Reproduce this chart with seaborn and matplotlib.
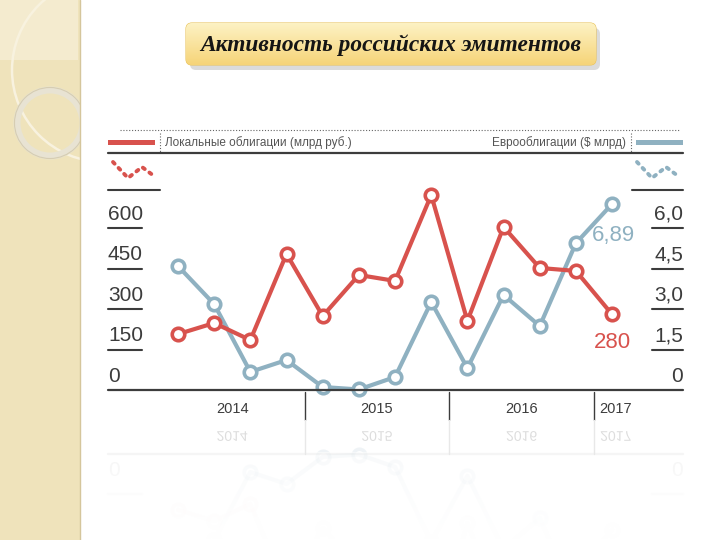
import numpy as np
import matplotlib
matplotlib.use("Agg")
import matplotlib.pyplot as plt
import seaborn as sns
from matplotlib.patches import FancyBboxPatch, Rectangle, Circle, PathPatch
from matplotlib.textpath import TextPath
from matplotlib.font_manager import FontProperties
from matplotlib.transforms import Affine2D

# данные по кварталам: I кв. 2014 – I кв. 2017
quarters = ["I-2014", "II-2014", "III-2014", "IV-2014",
            "I-2015", "II-2015", "III-2015", "IV-2015",
            "I-2016", "II-2016", "III-2016", "IV-2016", "I-2017"]
local_bonds = [207, 248, 185, 504, 274, 426, 404, 722, 256, 604, 452, 441, 280]   # млрд руб.
eurobonds = [4.59, 3.18, 0.67, 1.11, 0.11, 0.02, 0.48, 3.26, 0.81, 3.52, 2.37, 5.44, 6.89]  # $ млрд

years = ["2014", "2015", "2016", "2017"]
year_pos = [1.5, 5.5, 9.5, 12.1]
year_breaks = [3.5, 7.5, 11.5]

left_ticks = [0, 150, 300, 450, 600]
left_labels = ["0", "150", "300", "450", "600"]
right_ticks = [0, 1.5, 3.0, 4.5, 6.0]
right_labels = ["0", "1,5", "3,0", "4,5", "6,0"]

TITLE = "Активность российских эмитентов"
LOCAL_NAME = "Локальные облигации (млрд руб.)"
EURO_NAME = "Еврооблигации ($ млрд)"

RED = "#d8524d"
BLUE = "#8fb1c1"
DARK = "#3c3c3c"
GREY = "#555555"
NARROW = ["Liberation Sans", "DejaVu Sans"]

W, H = 720, 540
X0, X1 = -1.935, 13.96      # пределы оси x (индекс квартала)
YTOP = 877.8                # верх левой оси
SCALE2 = 100.0              # 600 млрд руб. <-> 6,0 $ млрд


def box(l, t, r, b):
    return [l / W, 1 - b / H, (r - l) / W, (b - t) / H]


def xpx(v):
    return 108 + (v - X0) / (X1 - X0) * 575


sns.set_theme(style="white")
plt.rcParams["font.family"] = NARROW

fig = plt.figure(figsize=(7.2, 5.4), dpi=100)
fig.patch.set_facecolor("white")

# ---------- фон слайда ----------
bg = fig.add_axes([0, 0, 1, 1], zorder=0)
bg.set_xlim(0, W)
bg.set_ylim(H, 0)
bg.axis("off")

strip = Rectangle((0, 0), 80, H, fc="#efe3bb", ec="none")
bg.add_patch(strip)
corner = Rectangle((0, 0), 78, 60, fc="#f4ebcf", ec="none")
bg.add_patch(corner)
for c in [Circle((104, 70), 92, fill=False, ec="#f8f2df", lw=1.8),
          Circle((50, 123), 33, fill=False, ec="#e8e3d3", lw=5),
          Circle((50, 123), 35.5, fill=False, ec="#d6cdb2", lw=0.8)]:
    bg.add_patch(c)
    c.set_clip_path(strip)
bg.plot([80, 80], [0, H], color="#d5c69c", lw=1)

# ---------- заголовок ----------
shadow = FancyBboxPatch((190, 28), 410, 42, boxstyle="round,pad=0,rounding_size=6",
                        fc="#9a9a9a", ec="none", alpha=0.35)
bg.add_patch(shadow)
tbox = FancyBboxPatch((186, 23), 410, 42, boxstyle="round,pad=0,rounding_size=6",
                      fc="#fbe7a0", ec="#e9c35e", lw=0.8)
bg.add_patch(tbox)
grad = np.linspace(0, 1, 64)[:, None, None]
top_c = np.array([253, 242, 196]) / 255
bot_c = np.array([246, 212, 120]) / 255
img = top_c * (1 - grad) + bot_c * grad
gi = bg.imshow(img, extent=(186, 596, 65, 23), origin="upper", aspect="auto", zorder=2)
gi.set_clip_path(tbox)
bg.text(200, 45, TITLE, ha="left", va="center", fontsize=16.8, color="#151515",
        family=["Liberation Serif", "DejaVu Serif"], style="italic", weight="bold", zorder=3)

# ---------- шапка графика ----------
bg.plot([120, 680], [130, 130], color="#666666", lw=0.8, ls=(0, (1, 1.6)))
bg.add_patch(Rectangle((108, 140), 47, 5, fc=RED, ec="none"))
bg.add_patch(Rectangle((636, 140), 47, 5, fc=BLUE, ec="none"))
bg.plot([160, 160], [133, 152], color="#666666", lw=0.8, ls=(0, (1, 1.6)))
bg.plot([631, 631], [133, 152], color="#666666", lw=0.8, ls=(0, (1, 1.6)))
bg.text(165, 143, LOCAL_NAME, ha="left", va="center", fontsize=8.5, color=GREY)
bg.text(626, 143, EURO_NAME, ha="right", va="center", fontsize=8.5, color=GREY)
bg.plot([108, 683], [153, 153], color=DARK, lw=1.6)

# значки-легенды (пунктирная ломаная)
icon_x = np.array([0, 15, 29, 41])
icon_y = np.array([162, 178, 167, 176])
bg.plot(113 + icon_x, icon_y, color=RED, lw=2.8, ls=(0, (0.6, 1.5)), dash_capstyle="round")
bg.plot(637 + icon_x, icon_y, color=BLUE, lw=2.8, ls=(0, (0.6, 1.5)), dash_capstyle="round")
bg.plot([108, 160], [190, 190], color=DARK, lw=1.5)
bg.plot([632, 683], [190, 190], color=DARK, lw=1.5)

# ---------- основной график ----------
ax = fig.add_axes(box(108, 153, 683, 390), zorder=3)
ax.patch.set_alpha(0)
ax2 = ax.twinx()
ax2.patch.set_alpha(0)

idx = np.arange(len(quarters))
line_kw = dict(lw=3.0, marker="o", ms=9, mfc="white", mew=2.6, clip_on=False)
sns.lineplot(x=idx, y=eurobonds, ax=ax2, color=BLUE, mec=BLUE, **line_kw)
sns.lineplot(x=idx, y=local_bonds, ax=ax, color=RED, mec=RED, **line_kw)
ax.set_zorder(4)
ax2.set_zorder(3)
ax.set_xlim(X0, X1)
ax.set_ylim(0, YTOP)
ax2.set_ylim(0, YTOP / SCALE2)
for a in (ax, ax2):
    a.axis("off")

# подписи осей с подчёркиванием
ytr = ax.get_yaxis_transform()
for v, lbl in zip(left_ticks, left_labels):
    ax.annotate(lbl, xy=(0, v), xycoords=ytr, xytext=(0, 3), textcoords="offset points",
                ha="left", va="bottom", fontsize=15, color=DARK)
    if v > 0:
        ax.plot([0, 34 / 575], [v, v], transform=ytr, color=DARK, lw=1.5, clip_on=False)
ytr2 = ax2.get_yaxis_transform()
for v, lbl in zip(right_ticks, right_labels):
    ax2.annotate(lbl, xy=(1, v), xycoords=ytr2, xytext=(0, 3), textcoords="offset points",
                 ha="right", va="bottom", fontsize=15, color=DARK)
    if v > 0:
        ax2.plot([1 - 31 / 575, 1], [v, v], transform=ytr2, color=DARK, lw=1.5, clip_on=False)

# последние значения
ax2.annotate(f"{eurobonds[-1]:.2f}".replace(".", ","), xy=(idx[-1], eurobonds[-1]),
             xytext=(1, -23), textcoords="offset points", ha="center", va="center",
             fontsize=16, color=BLUE)
ax.annotate(f"{local_bonds[-1]}", xy=(idx[-1], local_bonds[-1]),
            xytext=(0, -20), textcoords="offset points", ha="center", va="center",
            fontsize=16, color=RED)

# ось годов
xtr = ax.get_xaxis_transform()
ax.plot([0, 1], [0, 0], transform=ax.transAxes, color=DARK, lw=1.6, clip_on=False)
for b in year_breaks:
    ax.plot([b, b], [-0.01, -0.125], transform=xtr, color=DARK, lw=1.0, clip_on=False)
    ax.plot([b, b], [-0.125, -0.27], transform=xtr, color="#e8e8e8", lw=1.0, clip_on=False)
for p, y in zip(year_pos, years):
    ax.text(p, -0.08, y, transform=xtr, ha="center", va="center", fontsize=10.5, color=DARK)

# ---------- отражение ----------
refl = fig.add_axes(box(108, 454, 683, 691), zorder=1)
refl.patch.set_alpha(0)
sns.lineplot(x=idx, y=eurobonds, ax=refl, color=BLUE, mec=BLUE, alpha=0.14, **line_kw)
refl.set_xlim(X0, X1)
refl.set_ylim(YTOP / SCALE2, 0)
refl.axis("off")
refl_l = refl.twinx()
sns.lineplot(x=idx, y=local_bonds, ax=refl_l, color=RED, mec=RED, alpha=0.06, **line_kw)
refl_l.set_ylim(YTOP, 0)
refl_l.axis("off")

fade = fig.add_axes(box(100, 452, 700, 540), zorder=2)
ramp = np.linspace(0.3, 1.0, 64) ** 0.45
fade_img = np.ones((64, 1, 4))
fade_img[:, 0, 3] = ramp
fade.imshow(fade_img, extent=(0, 1, 0, 1), origin="upper", aspect="auto")
fade.axis("off")

fp = FontProperties(family=NARROW)
for p, y in zip(year_pos, years):
    tp = TextPath((0, 0), y, size=14, prop=fp)
    ext = tp.get_extents()
    cx = xpx(p)
    tr = Affine2D().translate(cx - (ext.x0 + ext.x1) / 2, 436 - (ext.y0 + ext.y1) / 2)
    bg.add_patch(PathPatch(tr.transform_path(tp), fc="#dddddd", ec="none"))
bg.plot([108, 683], [454, 454], color="#e8e8e8", lw=1.6, zorder=5)
bg.plot([108, 142], [494, 494], color="#f2f2f2", lw=1.5)
bg.plot([652, 683], [494, 494], color="#f2f2f2", lw=1.5)
for x, ha in [(108, "left"), (683, "right")]:
    bg.text(x, 470, "0", ha=ha, va="center", fontsize=15, color="#e8e8e8")

fig.savefig("out.png", dpi=100)
plt.close(fig)
